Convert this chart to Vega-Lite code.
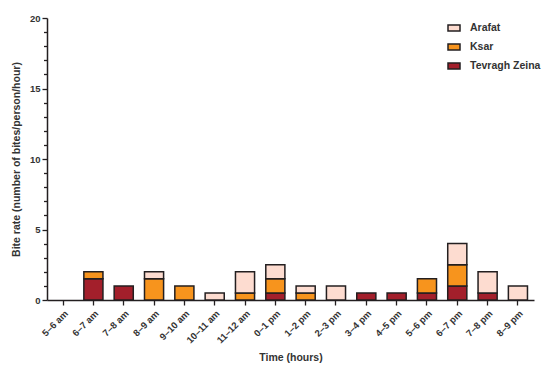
{
  "$schema": "https://vega.github.io/schema/vega-lite/v6.json",
  "width": 487,
  "height": 282,
  "autosize": "none",
  "padding": {"left": 47, "top": 18, "right": 16, "bottom": 74},
  "background": "white",
  "config": {
    "view": {"stroke": null},
    "font": "Liberation Sans",
    "axis": {
      "domainColor": "#231F20",
      "domainWidth": 1.5,
      "tickColor": "#231F20",
      "tickWidth": 1.3,
      "labelColor": "#333333",
      "labelFont": "Liberation Sans",
      "labelFontWeight": "bold",
      "labelFontSize": 9.5,
      "titleFont": "Liberation Sans",
      "titleFontWeight": "bold",
      "titleFontSize": 10.5,
      "titleColor": "#333333",
      "grid": false
    }
  },
  "data": {
    "values": [
      {"time": "6–7 am", "district": "Tevragh Zeina", "rate": 1.5},
      {"time": "6–7 am", "district": "Ksar", "rate": 0.5},
      {"time": "7–8 am", "district": "Tevragh Zeina", "rate": 1},
      {"time": "8–9 am", "district": "Ksar", "rate": 1.5},
      {"time": "8–9 am", "district": "Arafat", "rate": 0.5},
      {"time": "9–10 am", "district": "Ksar", "rate": 1},
      {"time": "10–11 am", "district": "Arafat", "rate": 0.5},
      {"time": "11–12 am", "district": "Ksar", "rate": 0.5},
      {"time": "11–12 am", "district": "Arafat", "rate": 1.5},
      {"time": "0–1 pm", "district": "Tevragh Zeina", "rate": 0.5},
      {"time": "0–1 pm", "district": "Ksar", "rate": 1},
      {"time": "0–1 pm", "district": "Arafat", "rate": 1},
      {"time": "1–2 pm", "district": "Ksar", "rate": 0.5},
      {"time": "1–2 pm", "district": "Arafat", "rate": 0.5},
      {"time": "2–3 pm", "district": "Arafat", "rate": 1},
      {"time": "3–4 pm", "district": "Tevragh Zeina", "rate": 0.5},
      {"time": "4–5 pm", "district": "Tevragh Zeina", "rate": 0.5},
      {"time": "5–6 pm", "district": "Tevragh Zeina", "rate": 0.5},
      {"time": "5–6 pm", "district": "Ksar", "rate": 1},
      {"time": "6–7 pm", "district": "Tevragh Zeina", "rate": 1},
      {"time": "6–7 pm", "district": "Ksar", "rate": 1.5},
      {"time": "6–7 pm", "district": "Arafat", "rate": 1.5},
      {"time": "7–8 pm", "district": "Tevragh Zeina", "rate": 0.5},
      {"time": "7–8 pm", "district": "Arafat", "rate": 1.5},
      {"time": "8–9 pm", "district": "Arafat", "rate": 1}
    ]
  },
  "mark": {"type": "bar", "stroke": "#231F20", "strokeWidth": 1.5},
  "encoding": {
    "x": {
      "field": "time",
      "type": "nominal",
      "scale": {
        "domain": ["5–6 am", "6–7 am", "7–8 am", "8–9 am", "9–10 am", "10–11 am", "11–12 am", "0–1 pm", "1–2 pm", "2–3 pm", "3–4 pm", "4–5 pm", "5–6 pm", "6–7 pm", "7–8 pm", "8–9 pm"],
        "paddingInner": 0.37,
        "paddingOuter": 0.215
      },
      "axis": {
        "title": "Time (hours)",
        "labelAngle": -45,
        "labelAlign": "right",
        "labelBaseline": "top",
        "tickSize": 5,
        "labelPadding": 3,
        "titlePadding": 8
      }
    },
    "y": {
      "field": "rate",
      "type": "quantitative",
      "aggregate": "sum",
      "stack": "zero",
      "scale": {"domain": [0, 20], "nice": false},
      "axis": {
        "title": "Bite rate (number of bites/person/hour)",
        "values": [0,1,2,3,4,5,6,7,8,9,10,11,12,13,14,15,16,17,18,19,20],
        "labelExpr": "datum.value % 5 === 0 ? datum.label : ''",
        "tickSize": {"expr": "datum.value % 5 === 0 ? 5 : 3.5"},
        "titlePadding": 8
      }
    },
    "color": {
      "field": "district",
      "type": "nominal",
      "scale": {
        "domain": ["Arafat", "Ksar", "Tevragh Zeina"],
        "range": ["#FDDCD0", "#F7941D", "#A31F2B"]
      },
      "legend": {
        "title": null,
        "orient": "none",
        "legendX": 400,
        "legendY": 3,
        "padding": 0,
        "symbolType": "M-1,-0.5H1V0.5H-1Z",
        "symbolSize": 144,
        "symbolStrokeColor": "#231F20",
        "symbolStrokeWidth": 1.5,
        "symbolOpacity": 1,
        "labelFont": "Liberation Sans",
        "labelFontWeight": "bold",
        "labelFontSize": 10.5,
        "labelColor": "#333333",
        "labelOffset": 9,
        "labelLimit": 200,
        "rowPadding": 6
      }
    },
    "order": {"field": "district", "sort": "descending"}
  }
}
